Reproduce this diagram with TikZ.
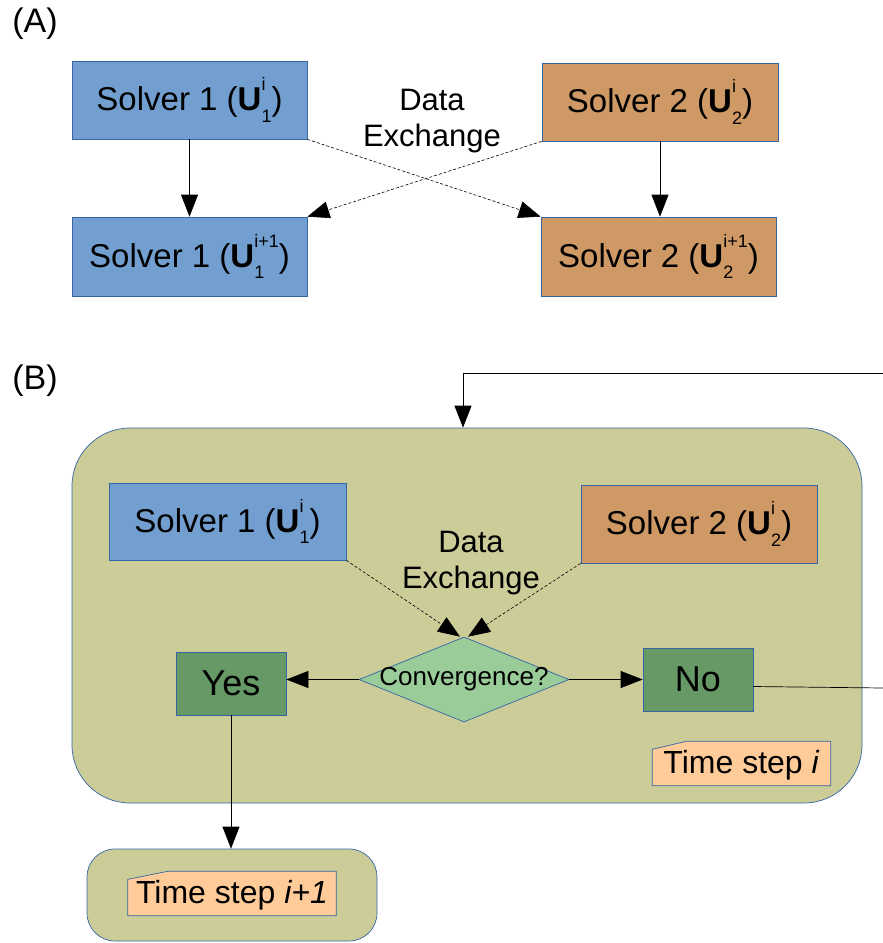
\documentclass[tikz,border=0pt]{standalone}
\usepackage{fontspec}
\setmainfont{Liberation Sans}
\usetikzlibrary{shapes.geometric,arrows.meta,calc}
\definecolor{sblue}{HTML}{729FCF}
\definecolor{sbrown}{HTML}{CF9966}
\definecolor{olive}{HTML}{CCCC99}
\definecolor{dgreen}{HTML}{669966}
\definecolor{lgreen}{HTML}{99CC99}
\definecolor{noteor}{HTML}{FFCC99}
\definecolor{bord}{HTML}{3465A4}
\newcommand{\fsz}[1]{\fontsize{#1pt}{\the\dimexpr #1pt*115/100\relax}\selectfont}
\newcommand{\scr}{\fontsize{18pt}{18pt}\selectfont}
\newcommand{\Uss}[2]{\textbf{U}\sbox0{\scr #1}\sbox2{\scr #2}\raisebox{-0.35em}{\usebox0}\hspace{-\wd0}\raisebox{0.6em}{\usebox2}\ifdim\wd0>\wd2 \hspace{\dimexpr\wd0-\wd2\relax}\fi}
\begin{document}
\begin{tikzpicture}[x=1pt,y=-1pt,
  box/.style={draw=bord, line width=0.7pt, inner sep=0pt, font=\fsz{33}},
  s1/.style={box, fill=sblue},
  s2/.style={box, fill=sbrown},
  grn/.style={box, fill=dgreen, font=\fsz{36}},
  cont/.style={draw=bord, line width=0.7pt, fill=olive, inner sep=0pt},
  arr/.style={-{Triangle[length=22pt,width=17pt]}, line width=0.7pt},
  darr/.style={-{Triangle[length=22pt,width=17pt]}, line width=0.6pt, dash pattern=on 3pt off 2pt},
  lbl/.style={font=\fsz{31}, align=center, inner sep=0pt},
  notebox/.style={draw=bord, line width=0.7pt, fill=noteor}
]
\useasboundingbox (0,0) rectangle (883,943);
% ---------------- (A)
\node[lbl, font=\fsz{34}] (la) at (35,24) {(A)};
\node[s1, minimum width=235pt, minimum height=78pt] (a1) at (189.5,100) {Solver 1 (\Uss{1}{i})};
\node[s2, minimum width=236pt, minimum height=78pt] (a2) at (660,102) {Solver 2 (\Uss{2}{i})};
\node[s1, minimum width=235pt, minimum height=79pt] (a3) at (189.5,256.5) {Solver 1 (\Uss{1}{i+1})};
\node[s2, minimum width=235pt, minimum height=79pt] (a4) at (658.5,256.5) {Solver 2 (\Uss{2}{i+1})};
\node[lbl] (dxa) at (432,121) {Data\\Exchange};
\draw[arr] (a1) -- (a3);
\draw[arr] (a2.south) -- (a2.south |- a4.north);
\draw[darr] (a1.south east) -- (a4.north west);
\draw[darr] (a2.south west) -- (a3.north east);
% ---------------- (B)
\node[lbl, font=\fsz{34}] (lb) at (35,381) {(B)};
\node[cont, rounded corners=58pt, minimum width=790pt, minimum height=375pt] (big) at (467,615.5) {};
\coordinate (e1) at (883,373);
\coordinate (e2) at (883,688);
\draw[arr] (e1) -| ([xshift=-4pt]big.north);
\node[s1, minimum width=237pt, minimum height=77pt] (b1) at (227.5,521.5) {Solver 1 (\Uss{1}{i})};
\node[s2, minimum width=236pt, minimum height=78pt] (b2) at (699,524) {Solver 2 (\Uss{2}{i})};
\node[lbl] (dxb) at (471,563) {Data\\Exchange};
\node[diamond, draw=bord, line width=0.7pt, fill=lgreen, inner sep=0pt, minimum width=210pt, minimum height=85pt] (cv) at (464,679.5) {};
\node[lbl, font=\fsz{26}] (cvt) at (cv.center) {Convergence?};
\node[grn, minimum width=110pt, minimum height=63pt] (yes) at (231,683.5) {Yes};
\node[grn, minimum width=110pt, minimum height=63pt] (no) at (698,679.5) {No};
\draw[arr] (cv.west) -- (cv.west -| yes.east);
\draw[arr] (cv.east) -- (cv.east -| no.west);
\draw[line width=0.7pt] ([yshift=-7pt]no.east) -- (e2);
\draw[darr] (b1.south east) -- ([xshift=-4pt]cv.north);
\draw[darr] (b2.south west) -- ([xshift=4pt]cv.north);
% note time step i
\path (741.5,763.5) node[minimum width=178pt, minimum height=44pt, inner sep=0pt] (n1) {};
\draw[notebox] ([yshift=-8pt]n1.north west) -- ([xshift=34pt]n1.north west) -- (n1.north east) -- (n1.south east) -- (n1.south west) -- cycle;
\node[lbl, font=\fsz{32}] (n1t) at ([yshift=-2pt]n1.center) {Time step \textit{i}};
% small container
\node[cont, rounded corners=28pt, minimum width=290pt, minimum height=92pt] (sb) at (232,895) {};
\draw[arr] (yes.south) -- (yes.south |- sb.north);
\path (232,893.5) node[minimum width=208pt, minimum height=44pt, inner sep=0pt] (n2) {};
\draw[notebox] ([yshift=-8pt]n2.north west) -- ([xshift=40pt]n2.north west) -- (n2.north east) -- (n2.south east) -- (n2.south west) -- cycle;
\node[lbl, font=\fsz{32}] (n2t) at ([yshift=-2pt]n2.center) {Time step \textit{i+1}};
\end{tikzpicture}
\end{document}
